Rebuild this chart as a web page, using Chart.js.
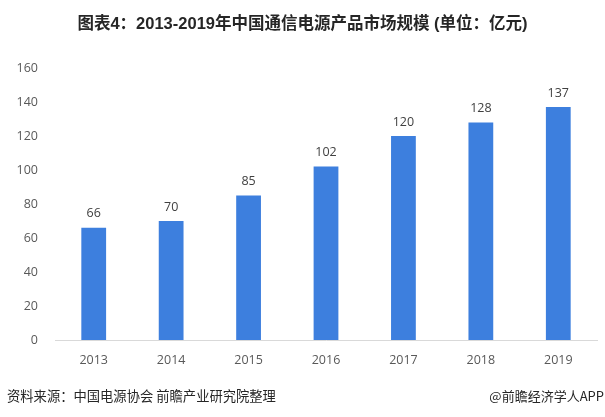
<!DOCTYPE html>
<html>
<head>
<meta charset="utf-8">
<script src="https://cdn.jsdelivr.net/npm/chart.js@4/dist/chart.umd.min.js"></script>
<style>
html,body{margin:0;padding:0;background:#fff;}
#wrap{position:relative;width:605px;height:417px;overflow:hidden;}
#c{position:absolute;left:0;top:0;}
.title{position:absolute;left:0;width:605px;top:12px;text-align:center;font-family:"Liberation Sans","Noto Sans CJK SC",sans-serif;font-weight:bold;font-size:16.5px;color:#262626;line-height:22px;white-space:nowrap;}
.src{position:absolute;left:7px;top:387px;font-family:"Noto Sans CJK SC",sans-serif;font-size:13.3px;color:#262626;line-height:18px;white-space:nowrap;}
.app{position:absolute;right:1px;top:387px;font-family:"Noto Sans CJK SC",sans-serif;font-size:13px;color:#262626;line-height:18px;white-space:nowrap;}
</style>
</head>
<body>
<div id="wrap">
<canvas id="c" width="605" height="417"></canvas>
<div class="title">图表4：2013-2019年中国通信电源产品市场规模 (单位：亿元)</div>
<div class="src">资料来源：中国电源协会 前瞻产业研究院整理</div>
<div class="app">@前瞻经济学人APP</div>
</div>
<script>
const years = ["2013","2014","2015","2016","2017","2018","2019"];
const marketSize = [66, 70, 85, 102, 120, 128, 137];
const yMin = 0, yMax = 160, yStep = 20;

const labelPlugin = {
  id: 'barLabels',
  afterDatasetsDraw(chart) {
    const ctx = chart.ctx;
    const meta = chart.getDatasetMeta(0);
    ctx.save();
    ctx.font = '12.5px "Open Sans", sans-serif';
    ctx.fillStyle = '#404040';
    ctx.textAlign = 'center';
    ctx.textBaseline = 'middle';
    meta.data.forEach((bar, i) => {
      ctx.fillText(String(marketSize[i]), bar.x, bar.y - 14);
    });
    ctx.restore();
  }
};

new Chart(document.getElementById('c'), {
  type: 'bar',
  data: {
    labels: years,
    datasets: [{
      data: marketSize,
      backgroundColor: '#3d7fde',
      categoryPercentage: 1,
      barPercentage: 0.32
    }]
  },
  options: {
    responsive: false,
    animation: false,
    devicePixelRatio: 1,
    layout: { padding: { left: 0, right: 8, top: 68, bottom: 47 } },
    plugins: { legend: { display: false }, tooltip: { enabled: false } },
    scales: {
      x: {
        grid: { display: false, drawTicks: false },
        border: { display: true, color: '#d9d9d9', width: 1 },
        ticks: { color: '#595959', font: { family: '"Open Sans", sans-serif', size: 12.5 }, padding: 13 },
        afterFit(s) { s.height = 30; }
      },
      y: {
        min: yMin, max: yMax,
        grid: { display: false, drawTicks: false },
        border: { display: false },
        ticks: { stepSize: yStep, color: '#595959', font: { family: '"Open Sans", sans-serif', size: 12.5 }, padding: 17 },
        afterFit(s) { s.width = 55; }
      }
    }
  },
  plugins: [labelPlugin]
});
</script>
</body>
</html>
